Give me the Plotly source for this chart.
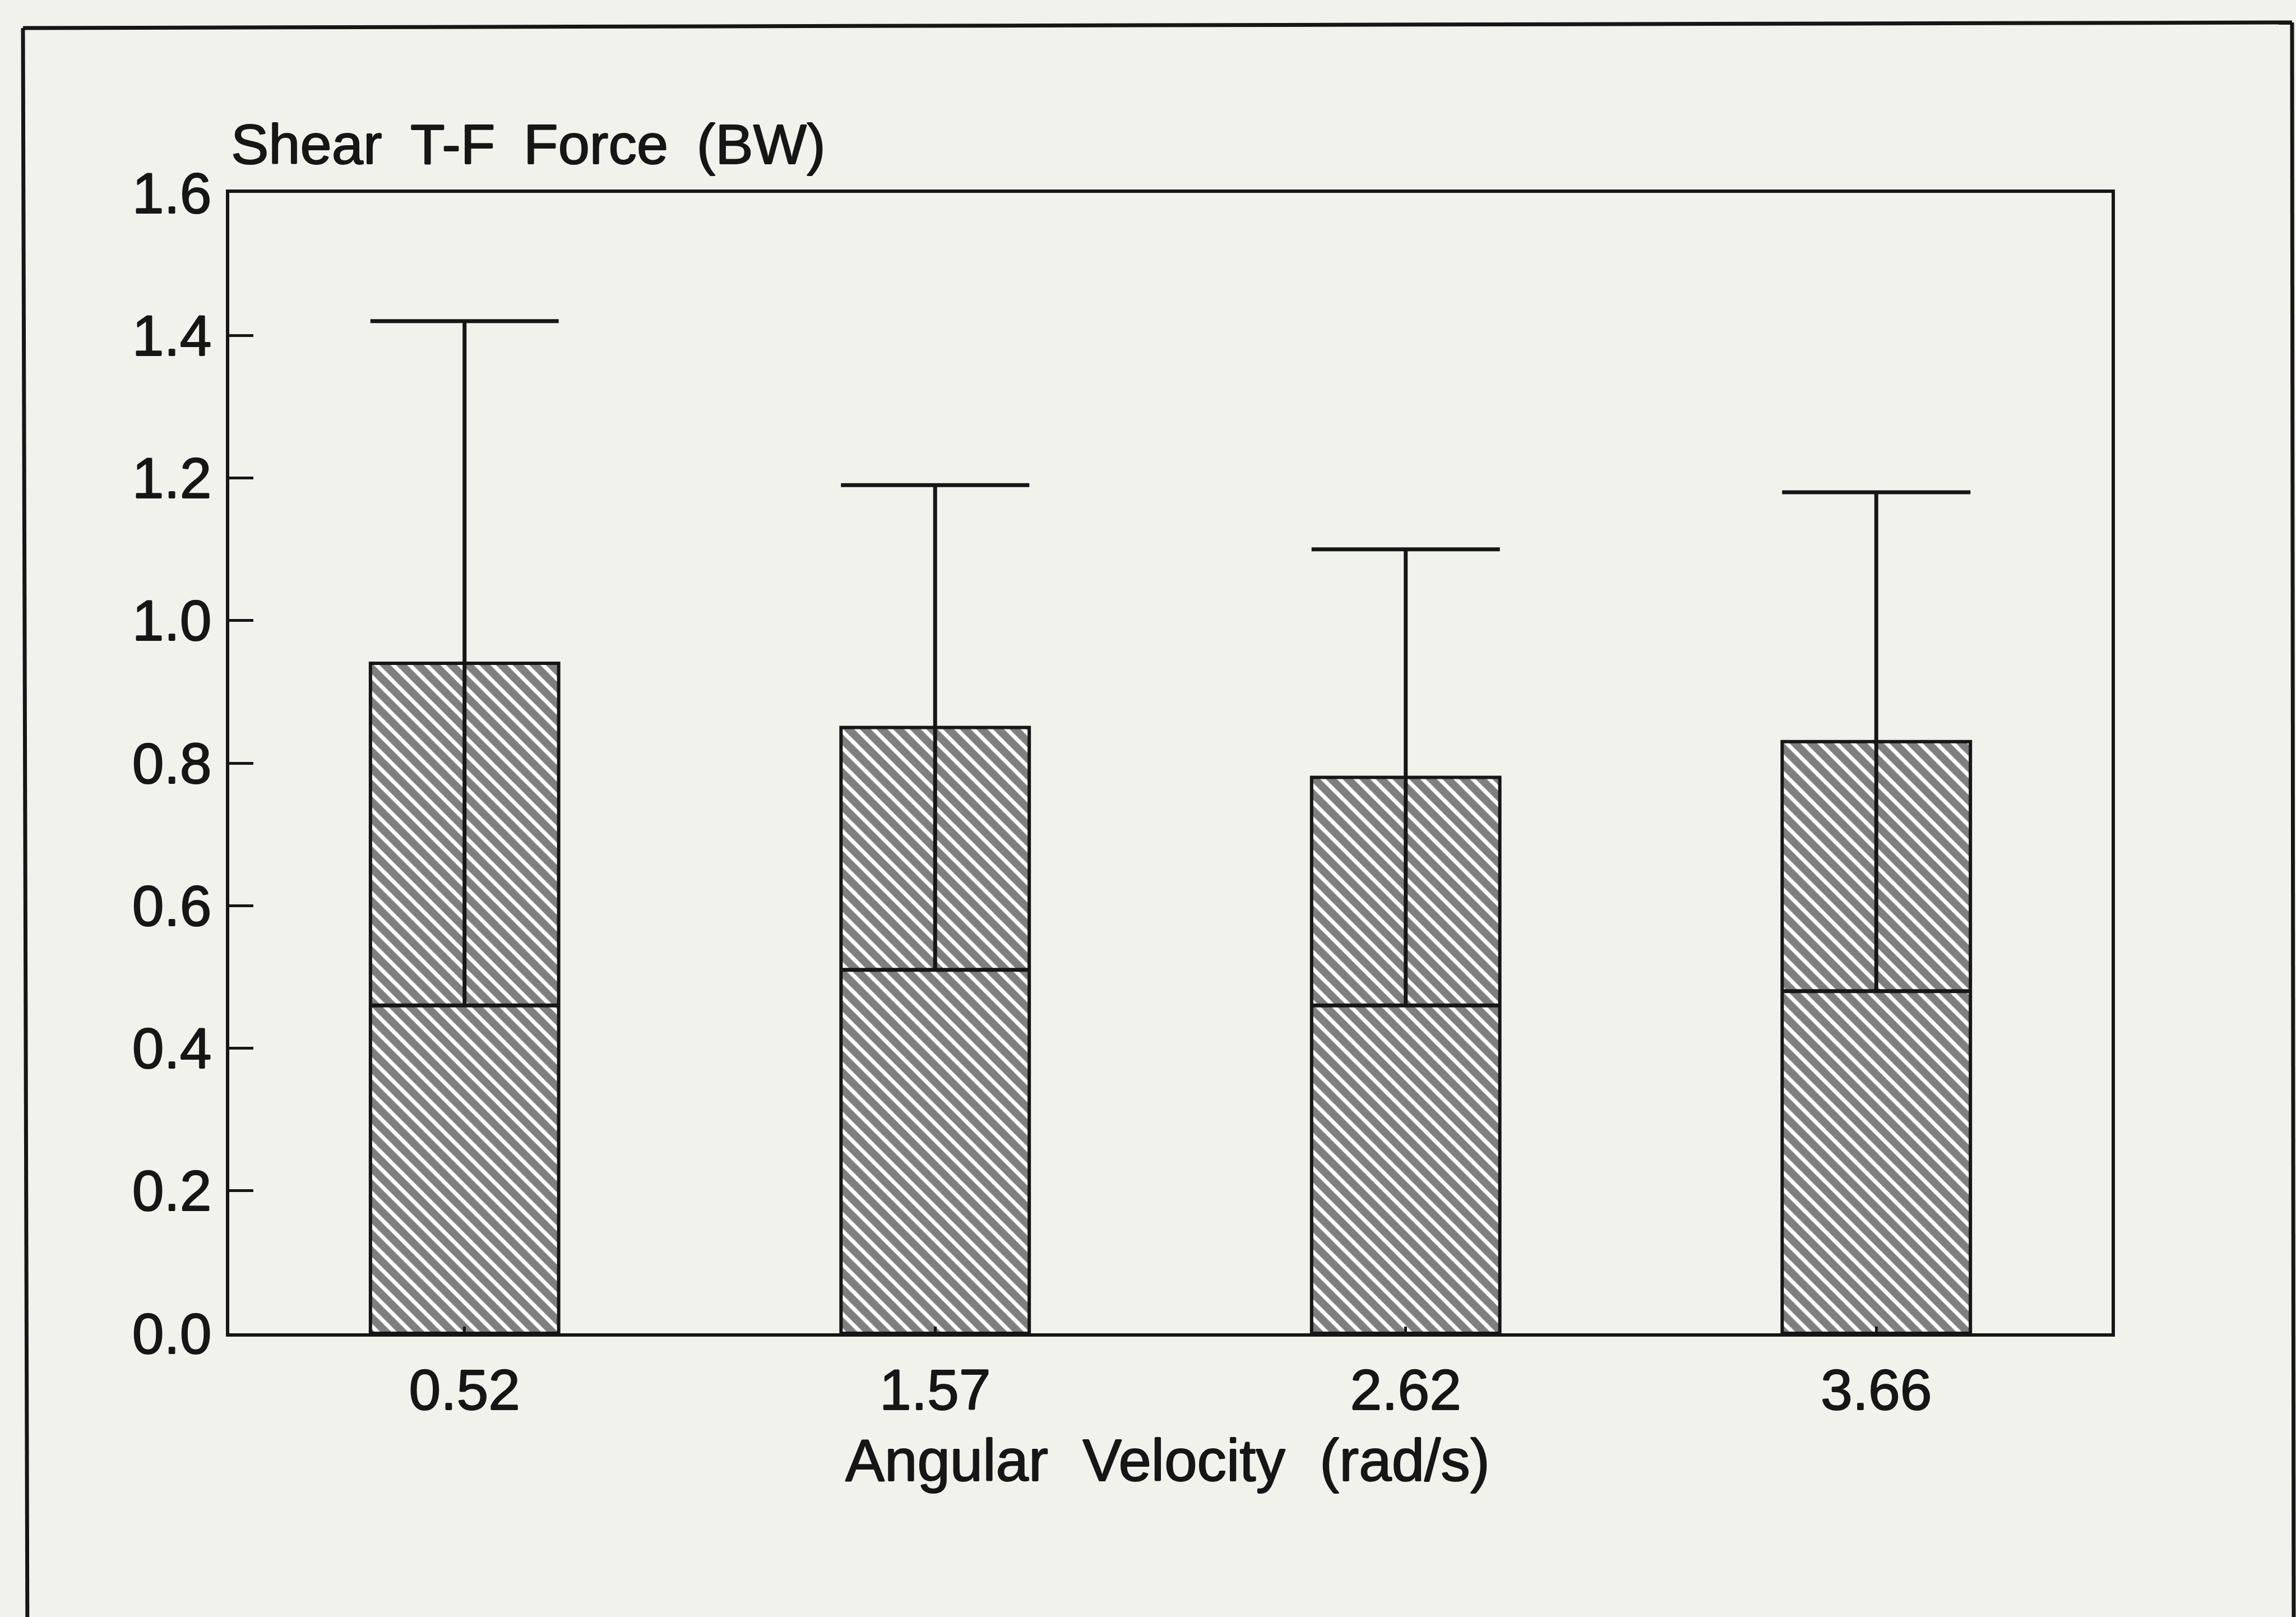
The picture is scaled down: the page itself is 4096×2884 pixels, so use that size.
import plotly.graph_objects as go

# ---- data ----
velocities = ["0.52", "1.57", "2.62", "3.66"]
mean_force = [0.94, 0.85, 0.78, 0.83]
sd_force = [0.48, 0.34, 0.32, 0.35]
y_ticks = [0.0, 0.2, 0.4, 0.6, 0.8, 1.0, 1.2, 1.4, 1.6]

y_title = "Shear\u2002T-F\u2002Force\u2002(BW)"
x_title = "Angular\u2002\u200aVelocity\u2002\u200a(rad/s)"

# ---- layout geometry (output pixels) ----
W, H = 4096, 2884
L, R, T, B = 409, 3767, 344, 2378
INK = "#161616"
PAPER = "#f2f2ec"
FONT = "Liberation Sans, Arial, Helvetica, sans-serif"
HEAVY = ("1px 0px 0px #161616, -1px 0px 0px #161616, "
         "0px 1px 0px #161616, 0px -1px 0px #161616")


def px_x(px):
    return (px - L) / (R - L)


def px_y(py):
    return (B - py) / (B - T)


fig = go.Figure()
fig.add_trace(go.Bar(
    x=velocities,
    y=mean_force,
    width=0.40,
    marker=dict(
        color="white",
        line=dict(color=INK, width=6),
        pattern=dict(shape="\\", size=21, solidity=0.66,
                     fgcolor="#000000", bgcolor="white"),
    ),
    error_y=dict(type="data", array=sd_force, symmetric=True,
                 color=INK, thickness=7, width=168),
    showlegend=False,
))

fig.update_layout(
    width=W, height=H,
    margin=dict(l=L, r=W - R, t=T, b=H - B, pad=0),
    paper_bgcolor=PAPER,
    plot_bgcolor=PAPER,
    font=dict(family=FONT, size=102, color=INK),
    bargap=0.6,
)

tick_font = dict(size=102, family=FONT, color=INK, shadow=HEAVY)

fig.update_xaxes(
    type="category",
    range=[-0.5, 3.5],
    showline=True, linecolor=INK, linewidth=6, mirror=True,
    ticks="inside", ticklen=12, tickwidth=5, tickcolor=INK,
    showgrid=False, zeroline=False,
    tickfont=tick_font,
    ticklabelstandoff=8,
)
fig.update_yaxes(
    range=[0, 1.6],
    tickvals=y_ticks,
    tickformat=".1f",
    showline=True, linecolor=INK, linewidth=6, mirror=True,
    ticks="inside", ticklen=43, tickwidth=5, tickcolor=INK,
    showgrid=False, zeroline=False,
    tickfont=tick_font,
    ticklabelstandoff=5,
)

# axis titles as annotations
fig.add_annotation(
    text=y_title, xref="paper", yref="paper",
    x=px_x(410), y=px_y(257), xanchor="left", yanchor="middle",
    showarrow=False, font=dict(size=101, family=FONT, color=INK, shadow=HEAVY),
)
fig.add_annotation(
    text=x_title, xref="paper", yref="paper",
    x=px_x(2083), y=px_y(2604), xanchor="center", yanchor="middle",
    showarrow=False, font=dict(size=105, family=FONT, color=INK, shadow=HEAVY),
)

# outer frame of the scanned figure panel (slightly skewed, as in the scan)
frame_lines = [
    (41, 50, 4089, 40),      # top edge
    (41, 50, 49, 2960),      # left edge
    (4089, 40, 4092, 2960),  # right edge
]
for x0, y0, x1, y1 in frame_lines:
    fig.add_shape(type="line", xref="paper", yref="paper",
                  x0=px_x(x0), y0=px_y(y0), x1=px_x(x1), y1=px_y(y1),
                  line=dict(color=INK, width=7), layer="above")

fig.write_html("out.html")
